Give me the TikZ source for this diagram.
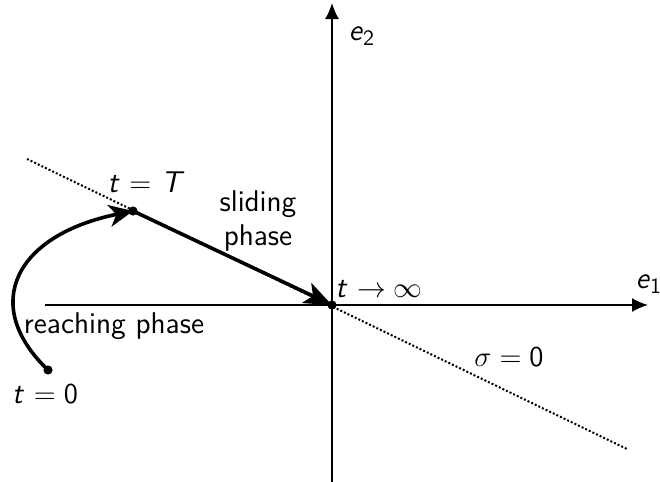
\documentclass[tikz,border=0pt]{standalone}
\usetikzlibrary{arrows.meta}
\begin{document}
\begin{tikzpicture}[x=0.5pt,y=-0.5pt,
  lab/.style={font=\sffamily\fontsize{15}{18}\selectfont, inner sep=0pt},
  axis/.style={line width=0.85pt, -{Latex[length=8pt,width=7pt]}},
  traj/.style={line width=1.8pt},
  pt/.style={circle, fill=black, inner sep=0pt, minimum size=4.6pt},
  surf/.style={line width=1pt, dash pattern=on 1pt off 1pt}]
\useasboundingbox (0,0) rectangle (660,482);
% axes
\coordinate (xl) at (45,305);
\coordinate (xr) at (648,305);
\coordinate (yb) at (332,482);
\coordinate (yt) at (332,3);
\draw[axis] (xl) -- (xr);
\draw[axis] (yb) -- (yt);
\node[lab] (e1) at (649,284) {\textit{e}$_\mathsf{1}$};
\node[lab] (e2) at (362,36) {\textit{e}$_\mathsf{2}$};
% sliding surface
\coordinate (sl) at (27,159);
\coordinate (sr) at (627,449);
\draw[surf] (sl) -- (sr);
% points
\node[pt] (O) at (332,305) {};
\node[pt] (T) at (133,211) {};
\node[pt] (Z) at (48,370) {};
% trajectories
\draw[traj, -{Stealth[length=14pt,width=11pt,inset=3.5pt]}] (T.center) -- (O.center);
\draw[traj, -{Stealth[length=12pt,width=11pt,inset=3.5pt]}] (Z.center) .. controls (-20,305) and (15,235) .. (T.center);
% labels
\node[lab] (lT) at (146,182) {\textit{t} $=$ \textit{T}};
\node[lab, align=center] (lslide) at (258,221) {sliding\\[-1pt]phase};
\node[lab] (linf) at (379,289) {\textit{t} $\rightarrow\infty$};
\node[lab] (lreach) at (114,326) {reaching phase};
\node[lab] (l0) at (45,394) {\textit{t} $=\mathsf{0}$};
\node[lab] (lsig) at (509,357) {$\sigma=\mathsf{0}$};
\end{tikzpicture}
\end{document}
